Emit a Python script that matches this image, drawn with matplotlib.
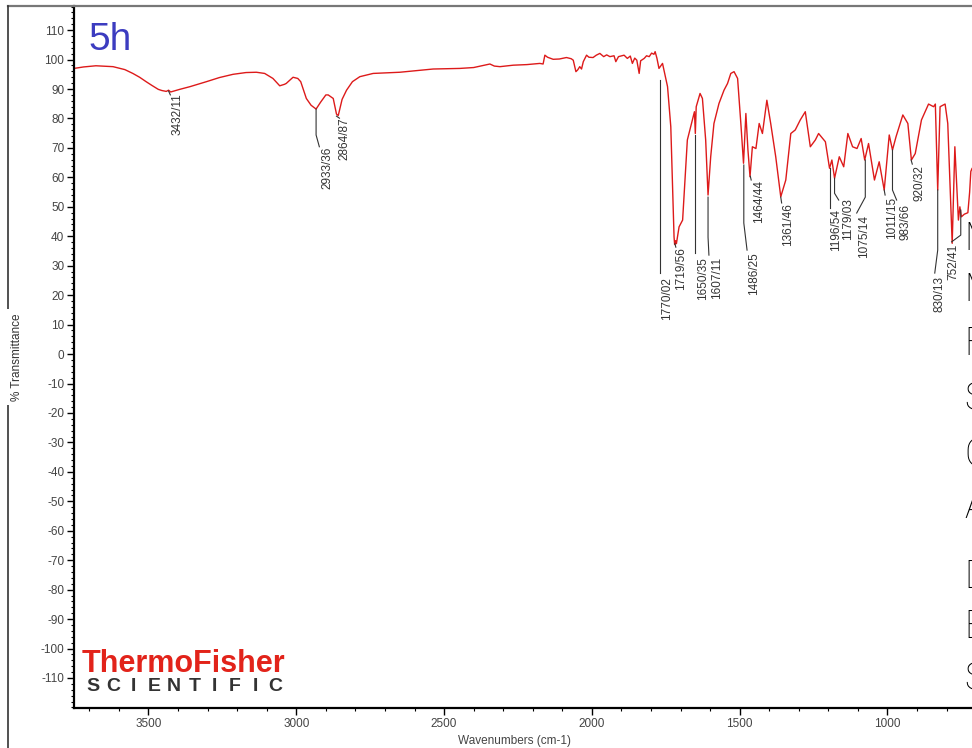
import numpy as np
import matplotlib
matplotlib.use("Agg")
import matplotlib.pyplot as plt
from matplotlib.lines import Line2D
from matplotlib.ticker import MultipleLocator

plt.rcParams['font.family'] = ['Liberation Sans', 'DejaVu Sans']
plt.rcParams['axes.unicode_minus'] = False

# spectrum: wavenumber (cm-1), %T
wavenumber = [3752, 3720, 3678, 3620, 3580, 3553, 3530, 3508, 3488, 3467, 3455, 3440, 3432,
              3425, 3394, 3360, 3304, 3260, 3214, 3170,
              3135, 3107, 3079, 3056, 3040, 3034, 3011, 2995, 2985, 2966, 2950, 2933, 2918,
              2900, 2892, 2875, 2864, 2858, 2845, 2830, 2810, 2785, 2740, 2650, 2600, 2537,
              2447, 2400, 2345, 2330, 2311, 2266, 2220, 2176, 2165, 2159, 2150, 2131, 2110,
              2086, 2070, 2063, 2054, 2048, 2041, 2035, 2029, 2018, 2010, 1996, 1985, 1973,
              1960, 1950, 1939, 1925, 1919, 1910, 1891, 1880, 1870, 1863, 1855, 1848, 1840,
              1835, 1823, 1815, 1806, 1798, 1790, 1786, 1780, 1773, 1761, 1744, 1733, 1722,
              1720, 1717, 1714, 1705, 1693, 1677, 1660, 1653, 1650, 1647, 1634, 1626, 1615,
              1607, 1598, 1587, 1570, 1553, 1541, 1530, 1519, 1507, 1496, 1487, 1479, 1472,
              1465, 1457, 1445, 1434, 1423, 1408, 1395, 1378, 1361, 1344, 1327, 1312, 1295,
              1278, 1261, 1244, 1233, 1210, 1196, 1188, 1179, 1163, 1148, 1134, 1118, 1103,
              1089, 1077, 1064, 1044, 1028, 1011, 994, 983, 971, 948, 931, 919, 906, 885,
              861, 844, 838, 830, 822, 805, 796, 789, 781, 772, 760, 755, 750, 740, 728, 722,
              718, 714]
transmittance = [97.0, 97.5, 97.9, 97.6, 96.6, 95.3, 94.0, 92.5, 91.2, 89.9, 89.5, 89.2, 89.6,
                 89.0, 89.9, 90.8, 92.5, 93.9, 95.0, 95.6,
                 95.7, 95.3, 93.6, 91.1, 91.6, 91.9, 94.0, 93.6, 92.5, 86.8, 84.5, 83.2, 85.5,
                 88.0, 88.0, 86.8, 81.5, 81.0, 86.5, 89.6, 92.5, 94.2, 95.3, 95.7, 96.2, 96.8,
                 97.0, 97.3, 98.5, 97.8, 97.6, 98.1, 98.3, 98.7, 98.5, 101.5, 100.8, 100.1, 100.2,
                 100.7, 100.3, 99.8, 95.9, 96.5, 97.6, 96.8, 99.3, 101.5, 100.8, 100.7, 101.5, 102.1,
                 101.0, 101.6, 101.0, 101.3, 99.3, 101.0, 101.5, 100.4, 101.2, 98.7, 100.5, 99.8, 95.3,
                 99.6, 100.4, 101.3, 101.0, 102.2, 101.8, 102.7, 100.5, 97.0, 98.7, 90.8, 77.2, 39.8,
                 37.2, 38.5, 37.5, 43.2, 45.5, 72.7, 79.5, 82.3, 74.9, 84.0, 88.5, 86.8, 72.7,
                 54.0, 67.0, 78.3, 85.1, 89.6, 91.9, 95.3, 95.9, 93.6, 78.3, 64.8, 81.7, 69.3,
                 60.2, 70.4, 69.8, 78.3, 74.9, 86.2, 78.3, 67.0, 53.4, 59.1, 74.9, 76.1, 79.5,
                 82.3, 70.4, 72.7, 74.9, 72.1, 63.1, 65.9, 59.7, 67.0, 63.6, 74.9, 70.4, 69.8,
                 73.2, 65.9, 71.5, 59.1, 65.3, 55.7, 74.4, 69.3, 73.8, 81.2, 78.3, 65.9, 68.1, 79.5,
                 84.9, 84.0, 84.9, 55.7, 84.0, 84.9, 78.3, 59.1, 37.6, 70.4, 45.5, 50.0, 46.6, 47.5,
                 48.0, 55.0, 62.0, 63.0]

peak_labels = ['3432/11', '2933/36', '2864/87', '1770/02', '1719/56', '1650/35', '1607/11',
               '1486/25', '1464/44', '1361/46', '1196/54', '1179/03', '1075/14', '1011/15',
               '983/66', '920/32', '830/13', '752/41']

# leader layout: line x, line top, knee (x, y), text x, text top   (data coords)
leaders = [
    (3432, 89.3, 3426, 88.0, 3402, 88.5),
    (2933, 83.2, 2933, 74.4, 2896, 70.3),
    (2864, 80.8, 2854, 80.1, 2838, 80.5),
    (1770, 93.1, 1770, 27.5, 1746, 26.1),
    (1719, 37.5, 1716, 36.3, 1699, 36.3),
    (1650, 74.4, 1650, 34.3, 1625, 32.9),
    (1607, 53.3, 1607, 39.7, 1577, 32.9),
    (1486, 64.2, 1486, 44.5, 1453, 34.6),
    (1464, 60.4, 1461, 59.1, 1435, 59.1),
    (1361, 53.3, 1358, 51.3, 1337, 51.3),
    (1196, 63.2, 1196, 49.6, 1174, 49.2),
    (1179, 59.7, 1179, 54.6, 1132, 52.9),
    (1075, 65.9, 1075, 53.3, 1078, 47.2),
    (1011, 55.7, 1008, 54.0, 985, 53.3),
    (983, 69.3, 983, 55.7, 938, 51.0),
    (920, 65.9, 916, 64.5, 890, 64.2),
    (830, 55.7, 830, 35.3, 823, 26.5),
    (752, 48.9, 752, 40.4, 778, 37.4),
]
# end points of slanted part of some leaders
slant_end = {1: (2922, 70.4), 6: (1604, 33.6), 7: (1475, 35.3), 11: (1165, 52.3),
             12: (1104, 47.9), 14: (969, 52.3), 16: (840, 27.5), 17: (783, 38.1)}

fig = plt.figure(figsize=(9.72, 7.48), dpi=100)
W, H = 972.0, 748.0

ax = fig.add_axes([74 / W, 1 - 708 / H, 898 / W, 702 / H])
ax.plot(wavenumber, transmittance, color='#dd1a1a', lw=1.0)
ax.set_xlim(3752, 714)
ax.set_ylim(-120.2, 118.2)

for s in ['top', 'right']:
    ax.spines[s].set_visible(False)
for s in ['left', 'bottom']:
    ax.spines[s].set_linewidth(1.6)
    ax.spines[s].set_color('black')

ax.set_xticks(np.arange(1000, 3501, 500))
ax.xaxis.set_minor_locator(MultipleLocator(100))
ax.set_yticks(np.arange(-110, 111, 10))
ax.yaxis.set_minor_locator(MultipleLocator(2))
ax.tick_params(which='major', direction='out', length=5, width=1, labelsize=8.5,
               labelcolor='#444444', pad=2)
ax.tick_params(which='minor', direction='out', length=2.5, width=0.8)

ax.set_xlabel('Wavenumbers (cm-1)', fontsize=8.5, color='#444444')
ax.xaxis.set_label_coords((514 - 74) / 898, -27 / 702)

# peak annotations
for i, (lab, (lx, ly0, kx, ky, tx, ty)) in enumerate(zip(peak_labels, leaders)):
    xs, ys = [lx, kx], [ly0, ky]
    if i in slant_end:
        xs.append(slant_end[i][0])
        ys.append(slant_end[i][1])
    ax.plot(xs, ys, color='#333333', lw=0.8, clip_on=False)
    ax.text(tx, ty, lab, rotation=90, ha='center', va='top', fontsize=8.5,
            color='#333333')

# figure frame
fig.add_artist(Line2D([8 / W, 1], [1 - 6 / H, 1 - 6 / H], color='#777777', lw=1.6))
fig.add_artist(Line2D([8 / W, 8 / W], [0, 1 - 6 / H], color='#333333', lw=1.2))

fig.text(17 / W, 1 - 357 / H, '% Transmittance', rotation=90, ha='center', va='center',
         fontsize=8.5, color='#333333',
         bbox=dict(facecolor='white', edgecolor='none', pad=3))

fig.text(88 / W, 1 - 50 / H, '5h', fontsize=28, color='#3c3cc0', va='baseline')

# logo
fig.text(82 / W, 1 - 672 / H, 'ThermoFisher', fontsize=22, fontweight='bold',
         color='#e2231a', va='baseline')
for k, ch in enumerate('SCIENTIFIC'):
    fig.text((93 + 20.3 * k) / W, 1 - 691 / H, ch, fontsize=14, fontweight='bold',
             color='#333333', ha='center', va='baseline')

# text block cut off by the right edge, as in the source screenshot
side_letters = ['M', 'M', 'F', 'S', 'C', 'A', 'D', 'E', 'S']
side_base = [250, 301, 355, 410, 466, 518, 588, 638, 690]
for ch, yb in zip(side_letters, side_base):
    fig.text(964 / W, 1 - yb / H, ch, fontsize=27, family=['Roboto', 'DejaVu Sans'],
             fontweight='light', color='black', ha='left', va='baseline')

fig.savefig('out.png', dpi=100)
